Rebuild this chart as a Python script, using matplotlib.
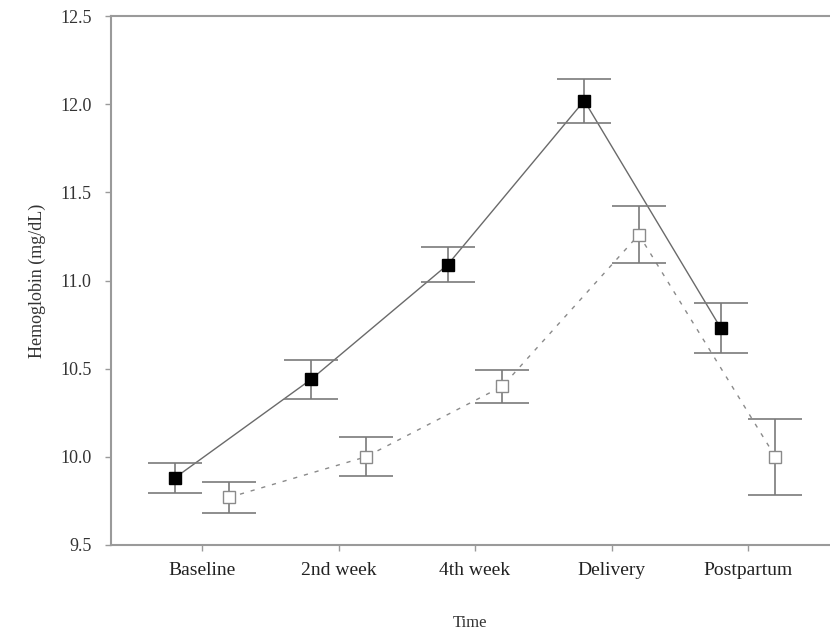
import matplotlib
matplotlib.use("Agg")
import matplotlib.pyplot as plt
import numpy as np

plt.rcParams['font.family'] = ['Liberation Serif', 'DejaVu Serif']

# Hemoglobin over time, two groups (mean ± SE)
time_points = ["Baseline", "2nd week", "4th week", "Delivery", "Postpartum"]
group_a_mean = [9.88, 10.44, 11.09, 12.02, 10.73]
group_a_err = [0.085, 0.11, 0.10, 0.125, 0.14]
group_b_mean = [9.77, 10.00, 10.40, 11.26, 10.00]
group_b_err = [0.09, 0.11, 0.095, 0.16, 0.215]

fig = plt.figure(figsize=(8.30, 6.36), dpi=100)
ax = fig.add_axes([0.1337, 0.1431, 0.8663, 0.8317])

x = np.arange(len(time_points))
offset = 0.2
grey = "#6a6a6a"

# group A: filled squares, solid line
ax.plot(x - offset, group_a_mean, color=grey, lw=1.0, zorder=2)
ax.errorbar(x - offset, group_a_mean, yerr=group_a_err, fmt='none',
            ecolor="#7a7a7a", elinewidth=1.2, capsize=19.5, capthick=1.2, zorder=3)
ax.plot(x - offset, group_a_mean, linestyle='none', marker='s', ms=8.5,
        mfc='black', mec='black', zorder=4)

# group B: open squares, dashed line
ax.plot(x + offset, group_b_mean, color="#8a8a8a", lw=1.0,
        linestyle=(0, (3, 5)), zorder=2)
ax.errorbar(x + offset, group_b_mean, yerr=group_b_err, fmt='none',
            ecolor="#7a7a7a", elinewidth=1.2, capsize=19.5, capthick=1.2, zorder=3)
ax.plot(x + offset, group_b_mean, linestyle='none', marker='s', ms=8.5,
        mfc='white', mec="#8a8a8a", mew=1.0, zorder=4)

ax.set_xlim(-0.667, 4.6)
ax.set_ylim(9.5, 12.5)
yticks = np.arange(9.5, 12.51, 0.5)
ax.set_yticks(yticks)
ax.set_yticklabels([f"{v:.1f}" for v in yticks], fontsize=13, color="#333333")
ax.set_xticks(x)
ax.set_xticklabels(time_points, fontsize=14, color="#222222")

for side in ["left", "top", "bottom"]:
    ax.spines[side].set_color("#9a9a9a")
    ax.spines[side].set_linewidth(1.5)
ax.spines["right"].set_visible(False)
ax.tick_params(axis='both', direction='out', length=4, width=1, color="#9a9a9a")
ax.tick_params(axis='x', pad=8)
ax.tick_params(axis='y', pad=10)

ax.set_ylabel("Hemoglobin (mg/dL)", fontsize=13, color="#333333", labelpad=10)
ax.set_xlabel("Time", fontsize=12, color="#333333", labelpad=26)

fig.savefig("out.png", dpi=100, facecolor="white")
